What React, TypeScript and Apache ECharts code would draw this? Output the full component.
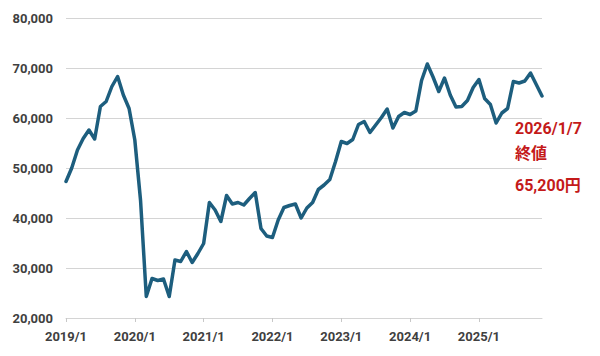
import React, { useEffect, useRef } from "react";
import * as echarts from "echarts";

const tickLabels = ["2019/1", "2020/1", "2021/1", "2022/1", "2023/1", "2024/1", "2025/1"];
const startYear = 2019;
const monthCount = 84;

const closeValues = [
  47300, 50000, 53600, 55900, 57600, 55800, 62300, 63300, 66300, 68300, 64600, 61900,
  55600, 43500, 24300, 27900, 27500, 27800, 24300, 31600, 31300, 33300, 31100, 32900,
  34900, 43100, 41600, 39300, 44500, 42800, 43100, 42600, 43900, 45100, 37900, 36400,
  36100, 39600, 42100, 42500, 42800, 40000, 42000, 43100, 45700, 46600, 47700, 51300,
  55300, 54900, 55700, 58700, 59300, 57100, 58600, 60100, 61800, 58000, 60300, 61100,
  60700, 61400, 67500, 70800, 68200, 65300, 68000, 64600, 62200, 62300, 63500, 66100,
  67700, 63900, 62700, 59000, 61000, 61900, 67300, 67000, 67400, 69000, 66700, 64400,
];

const annotationLines = ["2026/1/7", "終値", "65,200円"];

const categories: string[] = [];
for (let i = 0; i < monthCount; i++) {
  const y = startYear + Math.floor(i / 12);
  const m = (i % 12) + 1;
  categories.push(`${y}/${m}`);
}

export default function App() {
  const ref = useRef<HTMLDivElement>(null);
  useEffect(() => {
    document.body.style.margin = "0";
    if (!ref.current) return;
    const chart = echarts.init(ref.current, undefined, { renderer: "svg" });
    const font = "Roboto, 'Noto Sans', sans-serif";
    const red = "#c41a1a";
    chart.setOption({
      animation: false,
      grid: { left: 66, right: 58, top: 18, bottom: 38 },
      xAxis: {
        type: "category",
        data: categories,
        boundaryGap: false,
        axisLine: { show: true, lineStyle: { color: "#d4d4d4", width: 1 } },
        axisTick: {
          show: true,
          length: 4,
          interval: (i: number) => i % 12 === 0,
          lineStyle: { color: "#c8c8c8" },
        },
        axisLabel: {
          interval: (i: number) => i % 12 === 0,
          formatter: (v: string) => (tickLabels.includes(v) ? v : ""),
          color: "#404040",
          fontSize: 13,
          fontWeight: "bold",
          fontFamily: font,
          margin: 12,
        },
        splitLine: { show: false },
      },
      yAxis: {
        type: "value",
        min: 20000,
        max: 80000,
        interval: 10000,
        axisLine: { show: false },
        axisTick: { show: false },
        axisLabel: {
          formatter: (v: number) => v.toLocaleString("en-US"),
          color: "#404040",
          fontSize: 13,
          fontWeight: "bold",
          fontFamily: font,
          margin: 13,
        },
        splitLine: { lineStyle: { color: "#d4d4d4", width: 1 } },
      },
      series: [
        {
          type: "line",
          data: closeValues,
          symbol: "none",
          smooth: false,
          lineStyle: { color: "#1d5e7e", width: 3.5, join: "round", cap: "round" },
        },
      ],
      graphic: annotationLines.map((t, i) => ({
        type: "text",
        left: 513,
        top: [119, 144, 176][i],
        z: 100,
        style: {
          text: t,
          fill: red,
          font: `bold 16px Roboto, 'Noto Sans CJK JP', sans-serif`,
          backgroundColor: "#ffffff",
          padding: [1, 2, 1, 2],
        },
      })),
    });
    return () => chart.dispose();
  }, []);
  return <div ref={ref} style={{ width: 600, height: 356 }} />;
}
